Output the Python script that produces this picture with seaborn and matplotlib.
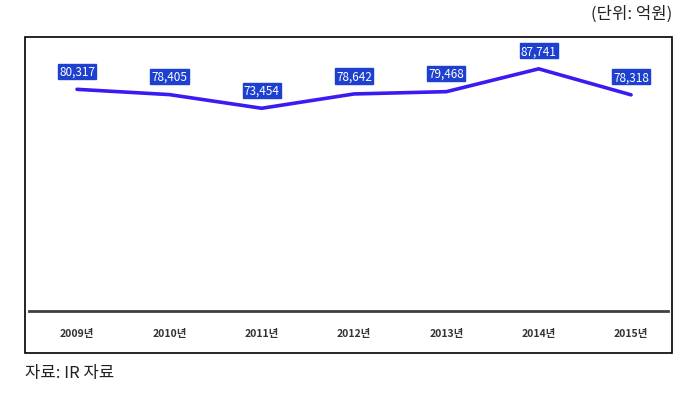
import matplotlib
matplotlib.use("Agg")
import matplotlib.pyplot as plt
import seaborn as sns
import pandas as pd
from matplotlib.patches import Rectangle

years = ["2009년", "2010년", "2011년", "2012년", "2013년", "2014년", "2015년"]
values = [80317, 78405, 73454, 78642, 79468, 87741, 78318]
value_labels = ["80,317", "78,405", "73,454", "78,642", "79,468", "87,741", "78,318"]
unit_text = "(단위: 억원)"
source_text = "자료: IR 자료"

sns.set_theme(style="white")
plt.rcParams['font.family'] = ['Noto Sans CJK KR', 'DejaVu Sans']

df = pd.DataFrame({"year": years, "value": values, "pos": range(len(years))})

fig = plt.figure(figsize=(7.0, 4.06), dpi=100)
ax = fig.add_axes([29/700, 1 - 312/406, (668-29)/700, (312-36)/406])

sns.lineplot(data=df, x="pos", y="value", ax=ax, color="#3a1cf2", linewidth=2.6)

ax.set_ylim(0, 100000)
ax.set_xlim(-0.52, 6.40)
ax.set_xticks(list(df["pos"]))
ax.set_xticklabels(years, fontsize=7.5, color="#333333", fontweight="bold")
ax.set_yticks([])
ax.set_xlabel("")
ax.set_ylabel("")
for s in ["top", "left", "right"]:
    ax.spines[s].set_visible(False)
ax.spines["bottom"].set_color("#404040")
ax.spines["bottom"].set_linewidth(2)
ax.tick_params(axis="x", length=0, pad=12)

for x, y, lab in zip(df["pos"], df["value"], value_labels):
    ax.annotate(lab, (x, y), xytext=(0, 13), textcoords="offset points",
                ha="center", va="center", fontsize=8.5, color="white",
                bbox=dict(boxstyle="square,pad=0.1", fc="#1e40d0", ec="#1e40d0"))

# outer frame
fig.patches.append(Rectangle((25/700, 1 - 354/406), (672-25)/700, (354-38)/406,
                             transform=fig.transFigure, fill=False,
                             edgecolor="black", linewidth=1.2))

fig.text(672/700, 1 - 14/406, unit_text, ha="right", va="center", fontsize=12, color="#222222")
fig.text(25/700, 1 - 374/406, source_text, ha="left", va="center", fontsize=12, color="#222222")

fig.savefig("out.png", dpi=100)
